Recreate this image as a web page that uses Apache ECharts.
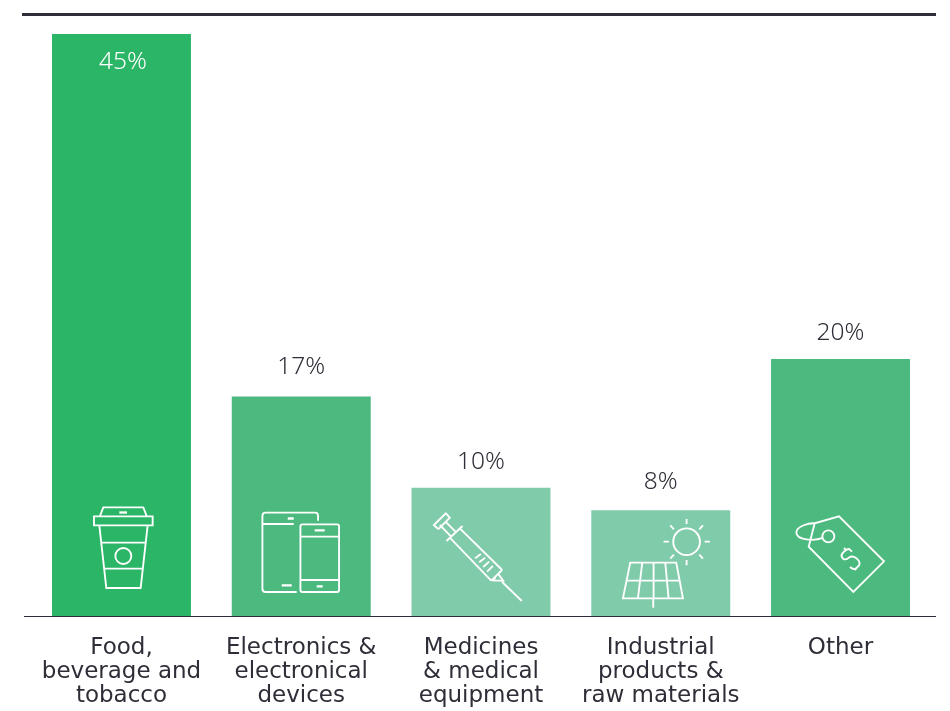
<!DOCTYPE html>
<html><head><meta charset="utf-8">
<style>html,body{margin:0;padding:0;background:#fff}#c{width:950px;height:711px}</style>
<script src="https://cdn.jsdelivr.net/npm/echarts@6/dist/echarts.min.js"></script>
</head><body><div id="c"></div>
<script>
const categories = ['Food,\nbeverage and\ntobacco','Electronics &\nelectronical\ndevices','Medicines\n& medical\nequipment','Industrial\nproducts &\nraw materials','Other'];
const barHeights = [45, 17, 9.95, 8.2, 19.9];
const valueLabels = ['45%','17%','10%','8%','20%'];
const labelGaps = [16, 17, 13, 16, 13];
const barColors = ['#2BB566','#4CBA7E','#80CBAA','#80CBAA','#4CBA7E'];
const ink = '#2E2E38';
const FONT = '"Noto Sans", sans-serif';

// Icon outlines, drawn at 3x and anchored to the foot of each bar
const iconAnchorX = [244.5, 784.5, 241.5, 781.5, 241.5];
const iconAnchorY = 379.5;
const icons = [
  { line: 'M180,78L190,52H310L320,78M162,79H338V106H162ZM178,106L199,294H302L323,106M185,158H316M194,236H307M226,198A24,24 0 1 1 274,198A24,24 0 1 1 226,198',
    thick: 'M238,67.5H261' },
  { line: 'M771,306H678Q668,306 668,296V78Q668,68 678,68H826Q835,68 835,78V92M668,102H762M788,103H892Q898,103 898,109V300Q898,306 892,306H788Q782,306 782,300V109Q782,103 788,103ZM782,140H898M782,270H898',
    thick: 'M744,85.5H762M726,286H756M825,121H855M831,289H849' },
  { line: 'M113,117L100,105L136,70L148,83L113,118M118,105L152,140M135,95L167,127M138,153L186,108M148,143L272,272M178,115L305,240M272,272L305,240M285,262L278,271L308,272L292,250M305,276L364,333M224,205L241,192M236,217L254,203M248,231L266,215M260,245L277,228',
    thick: '' },
  { line: 'M819,155A40,40 0 1 1 899,155A40,40 0 1 1 819,155M859,87V102M859,210V226M790,155H806M913,155H929M810,106L821,118M908,106L897,118M810,206L821,194M908,206L897,194M690,218H828L848,325H668ZM680,272H838M726,218L713,325M760,218V325M795,218L805,325M759,325V353',
    thick: '' },
  { line: 'M146,170L164,100L237,79L372,214L280,306ZM187,139A18,18 0 1 1 223,139A18,18 0 1 1 187,139M190,143C160,155 110,150 109,128C108,108 150,98 165,100M276,185L267,177Q260,176 247,190Q241,198 249,206Q257,212 268,202Q277,196 288,204Q303,215 297,226L287,236Q280,240 270,231M258,180L252,174M284,240L290,234',
    thick: '' }
];

const chart = echarts.init(document.getElementById('c'), null, {renderer:'canvas'});
chart.setOption({
  animation: false,
  backgroundColor: '#fff',
  grid: { left: 31.6, right: 19.6, top: 34, bottom: 94.5, containLabel: false },
  xAxis: {
    type: 'category', data: categories,
    axisLine: {show:false}, axisTick: {show:false},
    axisLabel: { interval: 0, color: ink, fontFamily: '"DejaVu Sans", sans-serif', fontSize: 23, lineHeight: 24, margin: 20 }
  },
  yAxis: { type: 'value', min: 0, max: 45, show: false, splitLine: {show:false} },
  series: [
    { type: 'bar', barWidth: '77.3%', z: 2,
      data: barHeights.map((v,i) => ({
        value: v,
        itemStyle: { color: barColors[i] },
        label: {
          show: true, formatter: valueLabels[i],
          position: i === 0 ? 'insideTop' : 'top',
          distance: labelGaps[i],
          offset: i === 0 ? [1.5, 0] : [0, 0],
          color: i === 0 ? '#fff' : ink,
          fontFamily: FONT, fontSize: 24.5, fontWeight: 300
        }
      }))
    },
    { type: 'custom', z: 3, silent: true, clip: false,
      data: categories.map((c,i) => [i]),
      encode: { x: 0 },
      renderItem: (params, api) => {
        const i = api.value(0);
        const p = api.coord([i, 0]);
        const st = { fill: 'none', stroke: '#fff', lineWidth: 5.6, lineJoin: 'miter' };
        const children = [{ type:'path', shape:{ pathData: icons[i].line }, style: st }];
        if (icons[i].thick) children.push({ type:'path', shape:{ pathData: icons[i].thick }, style: { fill:'none', stroke:'#fff', lineWidth: 7 } });
        return { type:'group', x: p[0] - iconAnchorX[i]/3, y: p[1] - iconAnchorY/3, scaleX: 1/3, scaleY: 1/3, children };
      }
    }
  ],
  graphic: [
    { type:'line', silent:true, z:10, shape:{x1:22,y1:14.5,x2:936,y2:14.5}, style:{stroke:ink,lineWidth:3} },
    { type:'line', silent:true, z:10, shape:{x1:24,y1:616.5,x2:936,y2:616.5}, style:{stroke:ink,lineWidth:1} }
  ]
});
</script></body></html>
